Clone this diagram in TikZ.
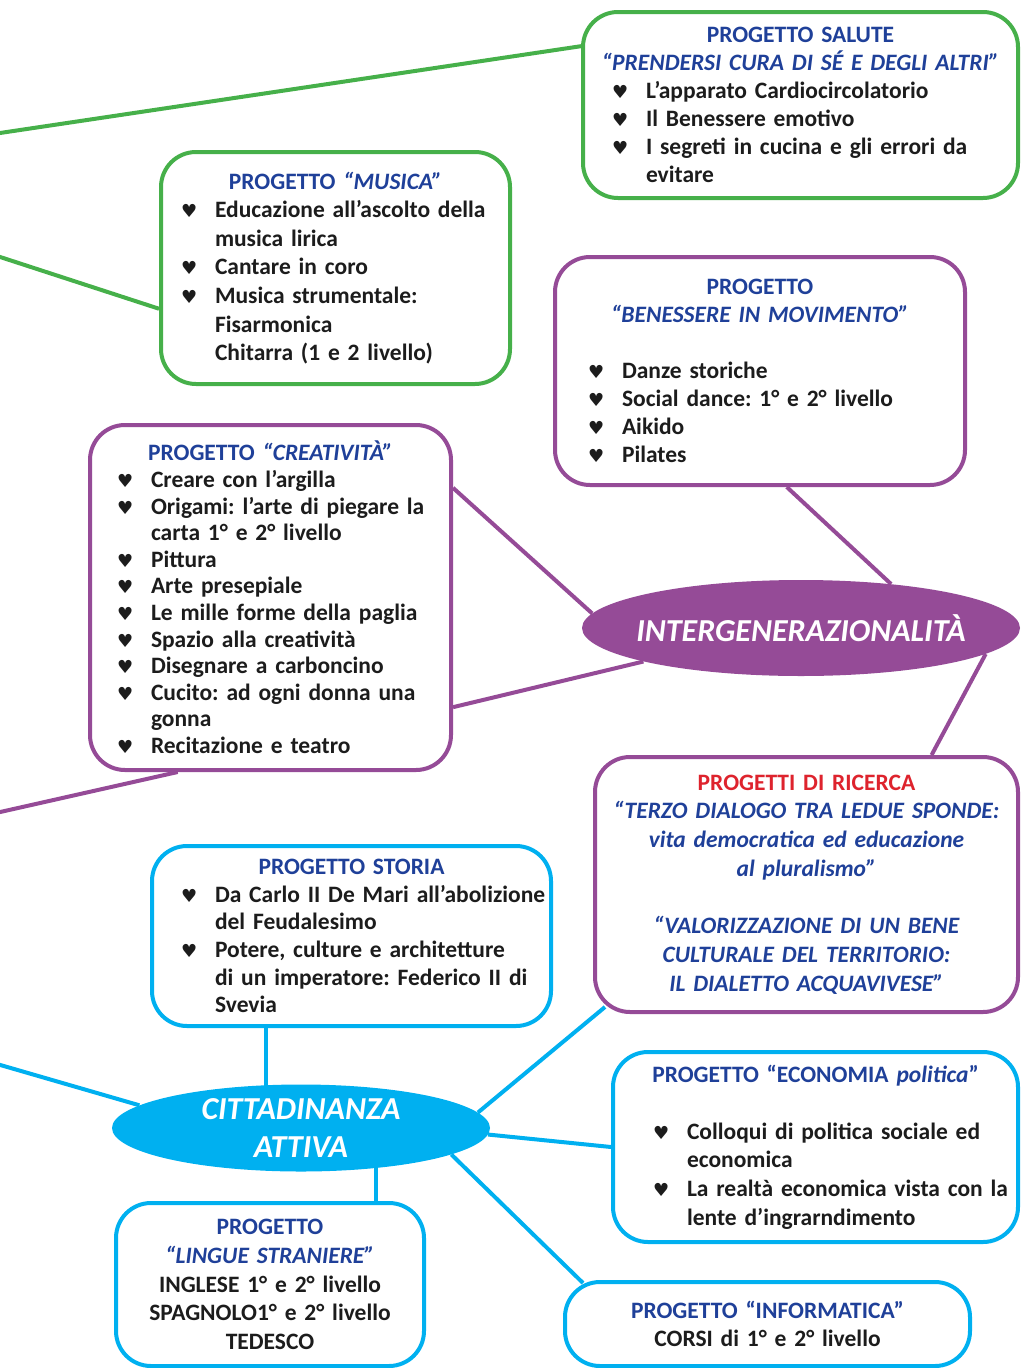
\documentclass[tikz,border=0pt]{standalone}
\usepackage{fontspec}
\setmainfont{Carlito}
\newfontfamily\symfont{DejaVu Sans}
\usetikzlibrary{shapes.geometric,backgrounds}

\definecolor{verde}{RGB}{70,176,74}
\definecolor{viola}{RGB}{149,75,151}
\definecolor{azzurro}{RGB}{0,176,240}
\definecolor{titolo}{RGB}{31,64,153}
\definecolor{rosso}{RGB}{222,35,45}
\definecolor{testo}{RGB}{28,28,28}

\newlength\rientro
\newcommand\cuore{{\fontsize{18}{18}\symfont ♥}}
\newcommand\voce[1]{\par\leftskip=\rientro\noindent\hangindent=34pt\hangafter=1%
  \makebox[34pt][l]{\cuore}{\let\\\newline#1}}
\newcommand\titoli[1]{{\centering\color{titolo}#1\par}}

\tikzset{
  progetto/.style={draw=#1, line width=4pt, rounded corners=35pt, fill=white,
    inner xsep=0pt, align=left, text=testo,
    font=\fontsize{23.5}{28}\selectfont\bfseries\frenchspacing},
  nucleo/.style={ellipse, fill=#1, inner xsep=-30pt, inner ysep=-14pt,
    text=white, align=center, font=\fontsize{32}{38}\selectfont\bfseries\itshape},
  ramo/.style={draw=#1, line width=4pt},
}

\begin{document}
\begin{tikzpicture}[x=1pt,y=-1pt]
\useasboundingbox (0,0) rectangle (1021,1368);

\node[progetto=verde, text width=435pt, minimum height=186pt] (salute) at (800.5,105) {%
  \setlength\rientro{29pt}%
  \titoli{PROGETTO SALUTE\\\textit{“PRENDERSI CURA DI SÉ E DEGLI ALTRI”}}
  \voce{L’apparato Cardiocircolatorio}
  \voce{Il Benessere emotivo}
  \voce{I segreti in cucina e gli errori da\\evitare}\par};

\node[progetto=verde, text width=349pt, minimum height=232pt,
  font=\fontsize{23.5}{28.6}\selectfont\bfseries\frenchspacing] (musica) at (335.5,268) {%
  \setlength\rientro{20pt}%
  \titoli{PROGETTO \textit{“MUSICA”}}
  \voce{Educazione all’ascolto della\\musica lirica}
  \voce{Cantare in coro}
  \voce{Musica strumentale:\\Fisarmonica\\Chitarra (1 e 2 livello)}\par};

\node[progetto=viola, text width=410pt, minimum height=228pt] (benessere) at (760,371) {%
  \setlength\rientro{33pt}%
  \titoli{PROGETTO\\\textit{“BENESSERE IN MOVIMENTO”}}
  \vspace{28pt}
  \voce{Danze storiche}
  \voce{Social dance: 1° e 2° livello}
  \voce{Aikido}
  \voce{Pilates}\par};

\node[progetto=viola, text width=361pt, minimum height=345pt,
  font=\fontsize{23.5}{26.6}\selectfont\bfseries\frenchspacing] (creativ) at (270.5,597.5) {%
  \setlength\rientro{27pt}%
  \titoli{PROGETTO \textit{“CREATIVITÀ”}}
  \voce{Creare con l’argilla}
  \voce{Origami: l’arte di piegare la\\carta 1° e 2° livello}
  \voce{Pittura}
  \voce{Arte presepiale}
  \voce{Le mille forme della paglia}
  \voce{Spazio alla creatività}
  \voce{Disegnare a carboncino}
  \voce{Cucito: ad ogni donna una\\gonna}
  \voce{Recitazione e teatro}\par};

\node[progetto=viola, text width=423pt, minimum height=255pt,
  font=\fontsize{23.5}{28.7}\selectfont\bfseries\frenchspacing] (ricerca) at (806.5,884.5) {%
  {\centering\color{rosso}PROGETTI DI RICERCA\par}
  \titoli{\itshape “TERZO DIALOGO TRA LEDUE SPONDE:\\vita democratica ed educazione\\al pluralismo”}
  \vspace{28.7pt}
  \titoli{\itshape “VALORIZZAZIONE DI UN BENE\\CULTURALE DEL TERRITORIO:\\IL DIALETTO ACQUAVIVESE”}};

\node[nucleo=viola, minimum width=438pt, minimum height=96pt] (intergen) at (801,628) {INTERGENERAZIONALITÀ};

\node[progetto=azzurro, text width=399pt, minimum height=180pt,
  font=\fontsize{23.5}{27.6}\selectfont\bfseries\frenchspacing] (storia) at (351.5,936) {%
  \setlength\rientro{29pt}%
  \titoli{PROGETTO STORIA}
  \voce{Da Carlo II De Mari all’abolizione\\del Feudalesimo}
  \voce{Potere, culture e architetture\\di un imperatore: Federico II di\\Svevia}\par};

\node[progetto=azzurro, text width=405pt, minimum height=190pt,
  font=\fontsize{23.5}{28.6}\selectfont\bfseries\frenchspacing] (economia) at (815.5,1147) {%
  \setlength\rientro{40pt}%
  \titoli{PROGETTO “ECONOMIA \textit{politica}”}
  \vspace{28.6pt}
  \voce{Colloqui di politica sociale ed\\economica}
  \voce{La realtà economica vista con la\\lente d’ingrarndimento}\par};

\node[progetto=azzurro, text width=308pt, minimum height=163pt, align=center,
  font=\fontsize{23.5}{28.7}\selectfont\bfseries] (lingue) at (270,1284.5) {%
  \textcolor{titolo}{PROGETTO\\\textit{“LINGUE STRANIERE”}}\\
  INGLESE 1° e 2° livello\\SPAGNOLO1° e 2° livello\\TEDESCO};

\node[progetto=azzurro, text width=405pt, minimum height=84pt, align=center] (informatica) at (767.5,1324) {%
  \textcolor{titolo}{PROGETTO “INFORMATICA”}\\CORSI di 1° e 2° livello};

\node[nucleo=azzurro, minimum width=378pt, minimum height=87pt] (citt) at (301,1128) {CITTADINANZA\\ATTIVA};

\coordinate (libero1) at (-10,134.5);
\coordinate (libero2) at (-10,253.7);
\coordinate (libero3) at (-10,814.3);
\coordinate (libero4) at (-10,1062);

\begin{scope}[on background layer]
\draw[ramo=verde] (libero1) -- (salute.165);
\draw[ramo=verde] (libero2) -- (musica.193);
\draw[ramo=viola] (benessere.-77) -- (intergen.26);
\draw[ramo=viola] (creativ.31) -- (intergen.176);
\draw[ramo=viola] (creativ.-31) -- (intergen.192);
\draw[ramo=viola] (intergen.-8) -- (ricerca.46);
\draw[ramo=viola] (libero3) -- (creativ.242);
\draw[ramo=azzurro] (storia.227) -- (storia.227 |- citt.center);
\draw[ramo=azzurro] (libero4) -- (citt.172);
\draw[ramo=azzurro] (citt.5) -- ([xshift=12pt,yshift=7pt]ricerca.south west);
\draw[ramo=azzurro] (citt.-2) -- (economia.west);
\draw[ramo=azzurro] (citt.-10) -- ([xshift=20pt,yshift=-3pt]informatica.north west);
\draw[ramo=azzurro] (citt.-28) -- (citt.-28 |- lingue.north);
\end{scope}
\end{tikzpicture}
\end{document}
